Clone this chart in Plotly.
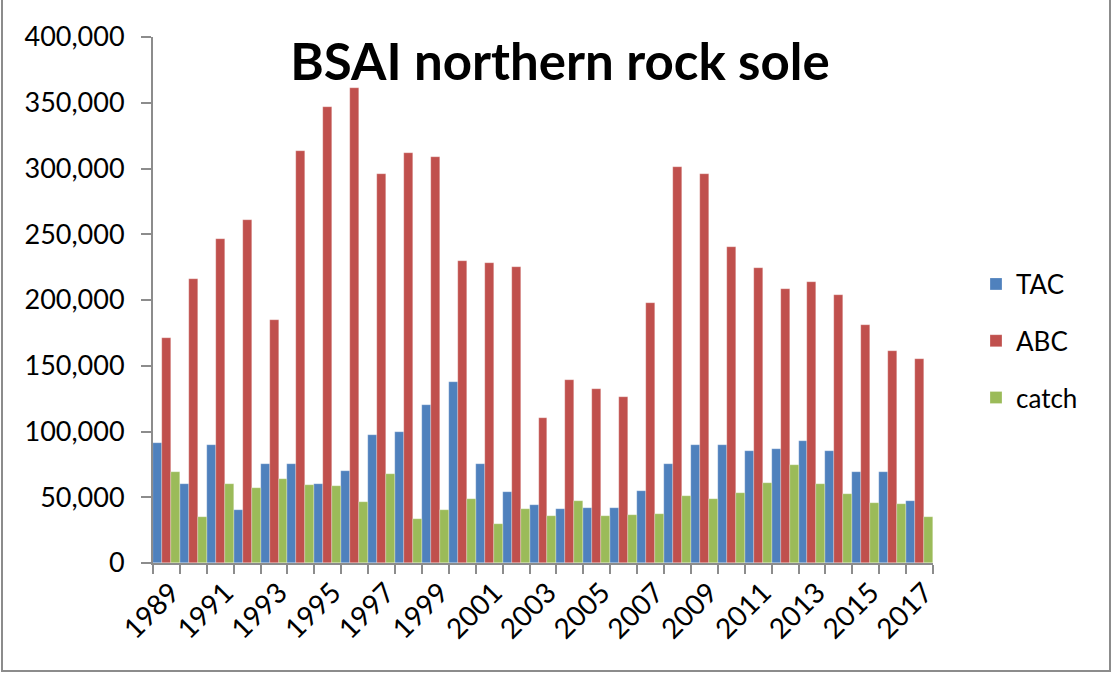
import plotly.graph_objects as go

years = list(range(1989, 2018))
tac = [91000, 60000, 90000, 40000, 75000, 75000, 60000, 70000, 97000, 100000,
       120000, 137760, 75000, 54000, 44000, 41000, 41500, 41500, 55000, 75000,
       90000, 90000, 85000, 87000, 92500, 85000, 69250, 69250, 47100]
abc = [171000, 216000, 246500, 260800, 185000, 313000, 347000, 361000, 296000, 312000,
       309000, 230000, 228000, 225000, 110000, 139000, 132000, 126000, 198000, 301000,
       296000, 240000, 224000, 208000, 214000, 203800, 181000, 161000, 155100]
catch = [69000, 35000, 60000, 57000, 63700, 59500, 58700, 46700, 67400, 33500,
         40400, 49000, 29400, 41400, 35400, 47400, 35400, 36200, 37000, 51100,
         48700, 53200, 60500, 74200, 59800, 52200, 45600, 45100, 35100]
tick_years = years[::2]

series = [("TAC", tac, "#4F81BD"), ("ABC", abc, "#C0504D"), ("catch", catch, "#9BBB59")]

FONT = "Lato, Carlito, Calibri, sans-serif"
fig = go.Figure()
for i, (name, vals, col) in enumerate(series):
    fig.add_trace(go.Bar(x=years, y=vals, name=name, legendgroup=name,
                         marker=dict(color=col, line=dict(color="rgba(255,255,255,0.5)", width=0.5))))

W, H = 1113, 674
L, R, T, B = 153, 180, 37, 111
pw, ph = W - L - R, H - T - B

fig.update_layout(
    width=W, height=H,
    barmode="group", bargap=0, bargroupgap=0,
    plot_bgcolor="white", paper_bgcolor="white",
    margin=dict(l=L, r=R, t=T, b=B, autoexpand=False),
    font=dict(family=FONT, color="black"),
    title=dict(text="<b>BSAI northern rock sole</b>", x=560 / W, xanchor="center",
               y=1 - 62 / H, yanchor="middle", xref="container", yref="container",
               font=dict(size=51, family=FONT, color="black")),
    legend=dict(x=(976 - L) / pw, xanchor="left", y=(H - B - 341) / ph, yanchor="middle",
                font=dict(size=26, family=FONT), tracegroupgap=20,
                itemwidth=30, bgcolor="rgba(0,0,0,0)"),
    showlegend=True,
)
fig.update_xaxes(
    type="linear", range=[1988.5, 2017.5],
    tickmode="array", tickvals=tick_years, ticktext=[str(y) for y in tick_years],
    tickangle=-45, ticks="", tickfont=dict(size=28, family=FONT),
    ticklabelshift=5,
    showline=True, linecolor="#8C8C8C", linewidth=2, showgrid=False, zeroline=False,
    minor=dict(ticks="outside", tick0=1988.5, dtick=1, ticklen=9, tickcolor="#8C8C8C",
               tickwidth=2, showgrid=False),
)
fig.update_yaxes(
    range=[0, 400000], dtick=50000, tick0=0, tickformat=",",
    ticks="outside", ticklen=10, tickcolor="#8C8C8C", tickwidth=2,
    showline=True, linecolor="#8C8C8C", linewidth=2, showgrid=False, zeroline=False,
    tickfont=dict(size=27, family=FONT), ticklabelstandoff=11,
)
fig.add_shape(type="rect", xref="paper", yref="paper",
              x0=(2 - L) / pw, x1=(1110 - L) / pw,
              y0=(H - B - 671) / ph, y1=(H - B + 3) / ph,
              line=dict(color="#8C8C8C", width=2), fillcolor="rgba(0,0,0,0)", layer="below")

fig.write_html("out.html", config={"displayModeBar": False},
               post_script="document.body.style.margin='0';document.body.style.overflow='hidden';")
